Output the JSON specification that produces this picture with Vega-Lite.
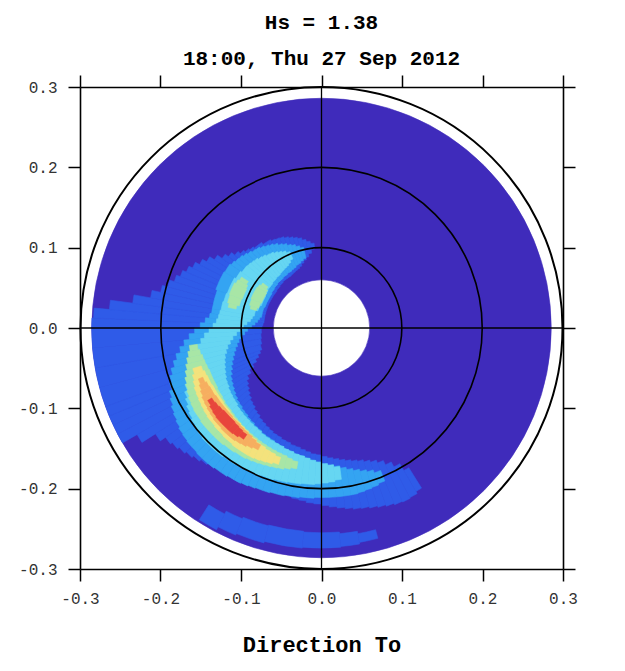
{
  "$schema": "https://vega.github.io/schema/vega-lite/v6.json",
  "autosize": "none",
  "width": 483,
  "height": 482,
  "padding": {"left": 80, "top": 87, "right": 62, "bottom": 102},
  "background": "white",
  "title": {
    "text": ["Hs = 1.38", "18:00, Thu 27 Sep 2012"],
    "font": "Liberation Mono",
    "fontSize": 21,
    "fontWeight": "bold",
    "lineHeight": 36,
    "color": "black",
    "anchor": "middle",
    "offset": 5
  },
  "config": {
    "view": {"stroke": null},
    "axis": {
      "domainColor": "black",
      "domainWidth": 1.6,
      "tickColor": "black",
      "tickWidth": 1.5,
      "tickSize": 12,
      "grid": false,
      "labelFont": "Liberation Mono",
      "labelFontSize": 16,
      "labelColor": "#333333",
      "labelPadding": 9,
      "labelFlush": false,
      "labelOverlap": false,
      "titleFont": "Liberation Mono",
      "titleFontSize": 22,
      "titleFontWeight": "bold",
      "titleColor": "black"
    }
  },
  "datasets": {
    "cells": [
      {"t":0,"t2":360,"r":0.06,"r2":0.286,"l":0},
      {"t":148,"t2":150,"r":0.205,"r2":0.235,"l":1},
      {"t":150,"t2":152.5,"r":0.195,"r2":0.238,"l":1},
      {"t":152.5,"t2":155,"r":0.188,"r2":0.239,"l":1},
      {"t":155,"t2":157.5,"r":0.182,"r2":0.238,"l":1},
      {"t":157.5,"t2":160,"r":0.178,"r2":0.236,"l":1},
      {"t":160,"t2":162.5,"r":0.175,"r2":0.234,"l":1},
      {"t":162.5,"t2":165,"r":0.172,"r2":0.232,"l":1},
      {"t":165,"t2":167.5,"r":0.17,"r2":0.23,"l":1},
      {"t":167.5,"t2":170,"r":0.168,"r2":0.229,"l":1},
      {"t":170,"t2":172.5,"r":0.166,"r2":0.227,"l":1},
      {"t":172.5,"t2":175,"r":0.164,"r2":0.225,"l":1},
      {"t":175,"t2":177.5,"r":0.162,"r2":0.223,"l":1},
      {"t":177.5,"t2":180,"r":0.16,"r2":0.221,"l":1},
      {"t":180,"t2":182.5,"r":0.158,"r2":0.219,"l":1},
      {"t":182.5,"t2":185,"r":0.157,"r2":0.218,"l":1},
      {"t":185,"t2":187.5,"r":0.155,"r2":0.216,"l":1},
      {"t":187.5,"t2":190,"r":0.153,"r2":0.215,"l":1},
      {"t":190,"t2":192.5,"r":0.151,"r2":0.213,"l":1},
      {"t":192.5,"t2":195,"r":0.15,"r2":0.212,"l":1},
      {"t":195,"t2":197.5,"r":0.148,"r2":0.211,"l":1},
      {"t":197.5,"t2":200,"r":0.147,"r2":0.21,"l":1},
      {"t":200,"t2":202.5,"r":0.145,"r2":0.21,"l":1},
      {"t":202.5,"t2":205,"r":0.144,"r2":0.21,"l":1},
      {"t":205,"t2":207.5,"r":0.142,"r2":0.211,"l":1},
      {"t":207.5,"t2":210,"r":0.14,"r2":0.212,"l":1},
      {"t":210,"t2":212.5,"r":0.138,"r2":0.213,"l":1},
      {"t":212.5,"t2":215,"r":0.136,"r2":0.215,"l":1},
      {"t":215,"t2":217.5,"r":0.133,"r2":0.217,"l":1},
      {"t":217.5,"t2":220,"r":0.131,"r2":0.219,"l":1},
      {"t":220,"t2":222.5,"r":0.128,"r2":0.222,"l":1},
      {"t":222.5,"t2":225,"r":0.126,"r2":0.225,"l":1},
      {"t":225,"t2":227.5,"r":0.123,"r2":0.228,"l":1},
      {"t":227.5,"t2":230,"r":0.12,"r2":0.231,"l":1},
      {"t":230,"t2":232.5,"r":0.117,"r2":0.234,"l":1},
      {"t":232.5,"t2":235,"r":0.114,"r2":0.237,"l":1},
      {"t":235,"t2":237.5,"r":0.11,"r2":0.245,"l":1},
      {"t":237.5,"t2":240,"r":0.104,"r2":0.265,"l":1},
      {"t":240,"t2":242.5,"r":0.097,"r2":0.286,"l":1},
      {"t":242.5,"t2":245,"r":0.091,"r2":0.286,"l":1},
      {"t":245,"t2":247.5,"r":0.086,"r2":0.286,"l":1},
      {"t":247.5,"t2":250,"r":0.082,"r2":0.286,"l":1},
      {"t":250,"t2":255,"r":0.079,"r2":0.286,"l":1},
      {"t":255,"t2":260,"r":0.077,"r2":0.286,"l":1},
      {"t":260,"t2":265,"r":0.076,"r2":0.286,"l":1},
      {"t":265,"t2":270,"r":0.075,"r2":0.286,"l":1},
      {"t":270,"t2":272.5,"r":0.074,"r2":0.286,"l":1},
      {"t":272.5,"t2":275,"r":0.073,"r2":0.284,"l":1},
      {"t":275,"t2":277.5,"r":0.072,"r2":0.265,"l":1},
      {"t":277.5,"t2":280,"r":0.072,"r2":0.237,"l":1},
      {"t":280,"t2":282.5,"r":0.072,"r2":0.216,"l":1},
      {"t":282.5,"t2":285,"r":0.072,"r2":0.205,"l":1},
      {"t":285,"t2":287.5,"r":0.072,"r2":0.198,"l":1},
      {"t":287.5,"t2":290,"r":0.072,"r2":0.192,"l":1},
      {"t":290,"t2":292.5,"r":0.072,"r2":0.187,"l":1},
      {"t":292.5,"t2":295,"r":0.072,"r2":0.182,"l":1},
      {"t":295,"t2":297.5,"r":0.072,"r2":0.177,"l":1},
      {"t":297.5,"t2":300,"r":0.072,"r2":0.171,"l":1},
      {"t":300,"t2":302.5,"r":0.072,"r2":0.165,"l":1},
      {"t":302.5,"t2":305,"r":0.072,"r2":0.158,"l":1},
      {"t":305,"t2":307.5,"r":0.072,"r2":0.151,"l":1},
      {"t":307.5,"t2":310,"r":0.072,"r2":0.146,"l":1},
      {"t":310,"t2":312.5,"r":0.073,"r2":0.141,"l":1},
      {"t":312.5,"t2":315,"r":0.073,"r2":0.137,"l":1},
      {"t":315,"t2":317.5,"r":0.074,"r2":0.134,"l":1},
      {"t":317.5,"t2":320,"r":0.074,"r2":0.132,"l":1},
      {"t":320,"t2":325,"r":0.075,"r2":0.13,"l":1},
      {"t":325,"t2":330,"r":0.075,"r2":0.127,"l":1},
      {"t":330,"t2":332.5,"r":0.076,"r2":0.125,"l":1},
      {"t":332.5,"t2":335,"r":0.077,"r2":0.124,"l":1},
      {"t":335,"t2":337.5,"r":0.078,"r2":0.123,"l":1},
      {"t":337.5,"t2":340,"r":0.079,"r2":0.121,"l":1},
      {"t":340,"t2":342.5,"r":0.081,"r2":0.119,"l":1},
      {"t":342.5,"t2":345,"r":0.084,"r2":0.117,"l":1},
      {"t":345,"t2":347.5,"r":0.087,"r2":0.115,"l":1},
      {"t":347.5,"t2":350,"r":0.09,"r2":0.112,"l":1},
      {"t":350,"t2":352.5,"r":0.094,"r2":0.109,"l":1},
      {"t":352.5,"t2":355,"r":0.099,"r2":0.106,"l":1},
      {"t":165,"t2":170,"r":0.26,"r2":0.271,"l":1},
      {"t":170,"t2":175,"r":0.257,"r2":0.273,"l":1},
      {"t":175,"t2":185,"r":0.255,"r2":0.274,"l":1},
      {"t":185,"t2":195,"r":0.254,"r2":0.275,"l":1},
      {"t":195,"t2":202.5,"r":0.255,"r2":0.277,"l":1},
      {"t":202.5,"t2":207.5,"r":0.257,"r2":0.279,"l":1},
      {"t":207.5,"t2":212.5,"r":0.261,"r2":0.283,"l":1},
      {"t":157.5,"t2":160,"r":0.192,"r2":0.206,"l":2},
      {"t":160,"t2":162.5,"r":0.188,"r2":0.208,"l":2},
      {"t":162.5,"t2":165,"r":0.185,"r2":0.209,"l":2},
      {"t":165,"t2":167.5,"r":0.182,"r2":0.21,"l":2},
      {"t":167.5,"t2":170,"r":0.179,"r2":0.211,"l":2},
      {"t":170,"t2":172.5,"r":0.176,"r2":0.211,"l":2},
      {"t":172.5,"t2":175,"r":0.173,"r2":0.211,"l":2},
      {"t":175,"t2":177.5,"r":0.171,"r2":0.211,"l":2},
      {"t":177.5,"t2":180,"r":0.169,"r2":0.211,"l":2},
      {"t":180,"t2":182.5,"r":0.167,"r2":0.211,"l":2},
      {"t":182.5,"t2":185,"r":0.165,"r2":0.212,"l":2},
      {"t":185,"t2":187.5,"r":0.163,"r2":0.212,"l":2},
      {"t":187.5,"t2":190,"r":0.161,"r2":0.213,"l":2},
      {"t":190,"t2":192.5,"r":0.16,"r2":0.213,"l":2},
      {"t":192.5,"t2":195,"r":0.158,"r2":0.214,"l":2},
      {"t":195,"t2":197.5,"r":0.157,"r2":0.214,"l":2},
      {"t":197.5,"t2":200,"r":0.155,"r2":0.215,"l":2},
      {"t":200,"t2":202.5,"r":0.154,"r2":0.215,"l":2},
      {"t":202.5,"t2":205,"r":0.152,"r2":0.216,"l":2},
      {"t":205,"t2":207.5,"r":0.151,"r2":0.217,"l":2},
      {"t":207.5,"t2":210,"r":0.15,"r2":0.218,"l":2},
      {"t":210,"t2":212.5,"r":0.148,"r2":0.218,"l":2},
      {"t":212.5,"t2":215,"r":0.147,"r2":0.219,"l":2},
      {"t":215,"t2":217.5,"r":0.145,"r2":0.219,"l":2},
      {"t":217.5,"t2":220,"r":0.144,"r2":0.22,"l":2},
      {"t":220,"t2":222.5,"r":0.142,"r2":0.22,"l":2},
      {"t":222.5,"t2":225,"r":0.141,"r2":0.22,"l":2},
      {"t":225,"t2":227.5,"r":0.139,"r2":0.219,"l":2},
      {"t":227.5,"t2":230,"r":0.138,"r2":0.219,"l":2},
      {"t":230,"t2":232.5,"r":0.136,"r2":0.218,"l":2},
      {"t":232.5,"t2":235,"r":0.134,"r2":0.217,"l":2},
      {"t":235,"t2":237.5,"r":0.132,"r2":0.215,"l":2},
      {"t":237.5,"t2":240,"r":0.13,"r2":0.213,"l":2},
      {"t":240,"t2":242.5,"r":0.128,"r2":0.211,"l":2},
      {"t":242.5,"t2":245,"r":0.125,"r2":0.208,"l":2},
      {"t":245,"t2":247.5,"r":0.122,"r2":0.205,"l":2},
      {"t":247.5,"t2":250,"r":0.119,"r2":0.201,"l":2},
      {"t":250,"t2":252.5,"r":0.116,"r2":0.198,"l":2},
      {"t":252.5,"t2":255,"r":0.113,"r2":0.194,"l":2},
      {"t":255,"t2":257.5,"r":0.11,"r2":0.189,"l":2},
      {"t":257.5,"t2":260,"r":0.107,"r2":0.184,"l":2},
      {"t":260,"t2":262.5,"r":0.104,"r2":0.178,"l":2},
      {"t":262.5,"t2":265,"r":0.1,"r2":0.172,"l":2},
      {"t":265,"t2":267.5,"r":0.096,"r2":0.165,"l":2},
      {"t":267.5,"t2":270,"r":0.092,"r2":0.158,"l":2},
      {"t":270,"t2":272.5,"r":0.087,"r2":0.151,"l":2},
      {"t":272.5,"t2":275,"r":0.083,"r2":0.145,"l":2},
      {"t":275,"t2":277.5,"r":0.08,"r2":0.14,"l":2},
      {"t":277.5,"t2":280,"r":0.078,"r2":0.138,"l":2},
      {"t":280,"t2":290,"r":0.076,"r2":0.138,"l":2},
      {"t":290,"t2":300,"r":0.075,"r2":0.14,"l":2},
      {"t":300,"t2":305,"r":0.075,"r2":0.139,"l":2},
      {"t":305,"t2":307.5,"r":0.076,"r2":0.137,"l":2},
      {"t":307.5,"t2":310,"r":0.076,"r2":0.135,"l":2},
      {"t":310,"t2":312.5,"r":0.077,"r2":0.134,"l":2},
      {"t":312.5,"t2":315,"r":0.077,"r2":0.132,"l":2},
      {"t":315,"t2":317.5,"r":0.078,"r2":0.13,"l":2},
      {"t":317.5,"t2":320,"r":0.078,"r2":0.128,"l":2},
      {"t":320,"t2":322.5,"r":0.078,"r2":0.127,"l":2},
      {"t":322.5,"t2":325,"r":0.079,"r2":0.125,"l":2},
      {"t":325,"t2":327.5,"r":0.079,"r2":0.123,"l":2},
      {"t":327.5,"t2":330,"r":0.08,"r2":0.121,"l":2},
      {"t":330,"t2":332.5,"r":0.08,"r2":0.119,"l":2},
      {"t":332.5,"t2":335,"r":0.081,"r2":0.116,"l":2},
      {"t":335,"t2":337.5,"r":0.082,"r2":0.114,"l":2},
      {"t":337.5,"t2":340,"r":0.084,"r2":0.111,"l":2},
      {"t":340,"t2":342.5,"r":0.085,"r2":0.109,"l":2},
      {"t":342.5,"t2":345,"r":0.087,"r2":0.106,"l":2},
      {"t":345,"t2":347.5,"r":0.089,"r2":0.103,"l":2},
      {"t":172.5,"t2":175,"r":0.174,"r2":0.19,"l":3},
      {"t":175,"t2":177.5,"r":0.171,"r2":0.192,"l":3},
      {"t":177.5,"t2":180,"r":0.169,"r2":0.193,"l":3},
      {"t":180,"t2":182.5,"r":0.167,"r2":0.194,"l":3},
      {"t":182.5,"t2":185,"r":0.165,"r2":0.195,"l":3},
      {"t":185,"t2":187.5,"r":0.163,"r2":0.195,"l":3},
      {"t":187.5,"t2":190,"r":0.161,"r2":0.196,"l":3},
      {"t":190,"t2":192.5,"r":0.16,"r2":0.196,"l":3},
      {"t":192.5,"t2":195,"r":0.158,"r2":0.197,"l":3},
      {"t":195,"t2":197.5,"r":0.157,"r2":0.197,"l":3},
      {"t":197.5,"t2":200,"r":0.155,"r2":0.198,"l":3},
      {"t":200,"t2":202.5,"r":0.154,"r2":0.198,"l":3},
      {"t":202.5,"t2":205,"r":0.153,"r2":0.199,"l":3},
      {"t":205,"t2":207.5,"r":0.152,"r2":0.199,"l":3},
      {"t":207.5,"t2":210,"r":0.151,"r2":0.2,"l":3},
      {"t":210,"t2":212.5,"r":0.149,"r2":0.2,"l":3},
      {"t":212.5,"t2":215,"r":0.148,"r2":0.201,"l":3},
      {"t":215,"t2":217.5,"r":0.147,"r2":0.201,"l":3},
      {"t":217.5,"t2":220,"r":0.146,"r2":0.202,"l":3},
      {"t":220,"t2":222.5,"r":0.145,"r2":0.202,"l":3},
      {"t":222.5,"t2":225,"r":0.144,"r2":0.202,"l":3},
      {"t":225,"t2":227.5,"r":0.143,"r2":0.202,"l":3},
      {"t":227.5,"t2":230,"r":0.141,"r2":0.201,"l":3},
      {"t":230,"t2":232.5,"r":0.14,"r2":0.2,"l":3},
      {"t":232.5,"t2":235,"r":0.139,"r2":0.198,"l":3},
      {"t":235,"t2":237.5,"r":0.138,"r2":0.196,"l":3},
      {"t":237.5,"t2":240,"r":0.136,"r2":0.194,"l":3},
      {"t":240,"t2":242.5,"r":0.135,"r2":0.191,"l":3},
      {"t":242.5,"t2":245,"r":0.133,"r2":0.188,"l":3},
      {"t":245,"t2":247.5,"r":0.131,"r2":0.184,"l":3},
      {"t":247.5,"t2":250,"r":0.129,"r2":0.18,"l":3},
      {"t":250,"t2":252.5,"r":0.127,"r2":0.176,"l":3},
      {"t":252.5,"t2":255,"r":0.125,"r2":0.171,"l":3},
      {"t":255,"t2":257.5,"r":0.122,"r2":0.166,"l":3},
      {"t":257.5,"t2":260,"r":0.119,"r2":0.161,"l":3},
      {"t":260,"t2":262.5,"r":0.115,"r2":0.156,"l":3},
      {"t":262.5,"t2":265,"r":0.111,"r2":0.151,"l":3},
      {"t":265,"t2":267.5,"r":0.106,"r2":0.146,"l":3},
      {"t":267.5,"t2":270,"r":0.101,"r2":0.14,"l":3},
      {"t":270,"t2":272.5,"r":0.097,"r2":0.135,"l":3},
      {"t":272.5,"t2":275,"r":0.093,"r2":0.131,"l":3},
      {"t":275,"t2":277.5,"r":0.089,"r2":0.129,"l":3},
      {"t":277.5,"t2":280,"r":0.087,"r2":0.128,"l":3},
      {"t":280,"t2":285,"r":0.085,"r2":0.127,"l":3},
      {"t":285,"t2":290,"r":0.082,"r2":0.126,"l":3},
      {"t":290,"t2":300,"r":0.08,"r2":0.125,"l":3},
      {"t":300,"t2":305,"r":0.081,"r2":0.123,"l":3},
      {"t":305,"t2":310,"r":0.082,"r2":0.121,"l":3},
      {"t":310,"t2":312.5,"r":0.082,"r2":0.12,"l":3},
      {"t":312.5,"t2":315,"r":0.083,"r2":0.119,"l":3},
      {"t":315,"t2":317.5,"r":0.083,"r2":0.118,"l":3},
      {"t":317.5,"t2":320,"r":0.084,"r2":0.116,"l":3},
      {"t":320,"t2":322.5,"r":0.084,"r2":0.115,"l":3},
      {"t":322.5,"t2":325,"r":0.085,"r2":0.113,"l":3},
      {"t":325,"t2":327.5,"r":0.086,"r2":0.112,"l":3},
      {"t":327.5,"t2":330,"r":0.087,"r2":0.11,"l":3},
      {"t":330,"t2":332.5,"r":0.088,"r2":0.108,"l":3},
      {"t":332.5,"t2":335,"r":0.09,"r2":0.106,"l":3},
      {"t":335,"t2":337.5,"r":0.093,"r2":0.103,"l":3},
      {"t":282.5,"t2":285,"r":0.109,"r2":0.119,"l":4},
      {"t":285,"t2":290,"r":0.106,"r2":0.121,"l":4},
      {"t":290,"t2":297.5,"r":0.105,"r2":0.122,"l":4},
      {"t":297.5,"t2":300,"r":0.106,"r2":0.12,"l":4},
      {"t":300,"t2":302.5,"r":0.108,"r2":0.118,"l":4},
      {"t":285,"t2":287.5,"r":0.084,"r2":0.092,"l":4},
      {"t":287.5,"t2":292.5,"r":0.082,"r2":0.094,"l":4},
      {"t":292.5,"t2":302.5,"r":0.081,"r2":0.095,"l":4},
      {"t":302.5,"t2":305,"r":0.082,"r2":0.094,"l":4},
      {"t":305,"t2":307.5,"r":0.084,"r2":0.092,"l":4},
      {"t":190,"t2":192.5,"r":0.169,"r2":0.178,"l":4},
      {"t":192.5,"t2":195,"r":0.167,"r2":0.18,"l":4},
      {"t":195,"t2":197.5,"r":0.165,"r2":0.182,"l":4},
      {"t":197.5,"t2":200,"r":0.164,"r2":0.183,"l":4},
      {"t":200,"t2":202.5,"r":0.163,"r2":0.184,"l":4},
      {"t":202.5,"t2":205,"r":0.162,"r2":0.185,"l":4},
      {"t":205,"t2":207.5,"r":0.161,"r2":0.186,"l":4},
      {"t":207.5,"t2":210,"r":0.16,"r2":0.187,"l":4},
      {"t":210,"t2":212.5,"r":0.159,"r2":0.188,"l":4},
      {"t":212.5,"t2":215,"r":0.158,"r2":0.188,"l":4},
      {"t":215,"t2":217.5,"r":0.157,"r2":0.189,"l":4},
      {"t":217.5,"t2":220,"r":0.156,"r2":0.189,"l":4},
      {"t":220,"t2":222.5,"r":0.155,"r2":0.19,"l":4},
      {"t":222.5,"t2":225,"r":0.154,"r2":0.19,"l":4},
      {"t":225,"t2":227.5,"r":0.153,"r2":0.19,"l":4},
      {"t":227.5,"t2":232.5,"r":0.152,"r2":0.19,"l":4},
      {"t":232.5,"t2":235,"r":0.151,"r2":0.189,"l":4},
      {"t":235,"t2":237.5,"r":0.15,"r2":0.189,"l":4},
      {"t":237.5,"t2":240,"r":0.15,"r2":0.188,"l":4},
      {"t":240,"t2":242.5,"r":0.149,"r2":0.187,"l":4},
      {"t":242.5,"t2":245,"r":0.149,"r2":0.185,"l":4},
      {"t":245,"t2":247.5,"r":0.149,"r2":0.183,"l":4},
      {"t":247.5,"t2":250,"r":0.149,"r2":0.181,"l":4},
      {"t":250,"t2":252.5,"r":0.15,"r2":0.178,"l":4},
      {"t":252.5,"t2":255,"r":0.151,"r2":0.175,"l":4},
      {"t":255,"t2":257.5,"r":0.152,"r2":0.172,"l":4},
      {"t":257.5,"t2":260,"r":0.154,"r2":0.169,"l":4},
      {"t":260,"t2":262.5,"r":0.156,"r2":0.166,"l":4},
      {"t":197.5,"t2":200,"r":0.169,"r2":0.178,"l":5},
      {"t":200,"t2":202.5,"r":0.167,"r2":0.18,"l":5},
      {"t":202.5,"t2":205,"r":0.166,"r2":0.181,"l":5},
      {"t":205,"t2":207.5,"r":0.164,"r2":0.182,"l":5},
      {"t":207.5,"t2":210,"r":0.163,"r2":0.183,"l":5},
      {"t":210,"t2":212.5,"r":0.161,"r2":0.183,"l":5},
      {"t":212.5,"t2":215,"r":0.16,"r2":0.183,"l":5},
      {"t":215,"t2":217.5,"r":0.158,"r2":0.183,"l":5},
      {"t":217.5,"t2":220,"r":0.157,"r2":0.182,"l":5},
      {"t":220,"t2":222.5,"r":0.156,"r2":0.182,"l":5},
      {"t":222.5,"t2":225,"r":0.156,"r2":0.181,"l":5},
      {"t":225,"t2":227.5,"r":0.155,"r2":0.181,"l":5},
      {"t":227.5,"t2":232.5,"r":0.154,"r2":0.18,"l":5},
      {"t":232.5,"t2":235,"r":0.153,"r2":0.179,"l":5},
      {"t":235,"t2":237.5,"r":0.153,"r2":0.178,"l":5},
      {"t":237.5,"t2":240,"r":0.153,"r2":0.177,"l":5},
      {"t":240,"t2":242.5,"r":0.153,"r2":0.176,"l":5},
      {"t":242.5,"t2":245,"r":0.154,"r2":0.175,"l":5},
      {"t":245,"t2":247.5,"r":0.154,"r2":0.173,"l":5},
      {"t":247.5,"t2":250,"r":0.155,"r2":0.171,"l":5},
      {"t":250,"t2":252.5,"r":0.157,"r2":0.168,"l":5},
      {"t":207.5,"t2":210,"r":0.164,"r2":0.171,"l":6},
      {"t":210,"t2":212.5,"r":0.162,"r2":0.173,"l":6},
      {"t":212.5,"t2":215,"r":0.16,"r2":0.175,"l":6},
      {"t":215,"t2":217.5,"r":0.159,"r2":0.176,"l":6},
      {"t":217.5,"t2":220,"r":0.158,"r2":0.177,"l":6},
      {"t":220,"t2":225,"r":0.157,"r2":0.177,"l":6},
      {"t":225,"t2":230,"r":0.156,"r2":0.176,"l":6},
      {"t":230,"t2":232.5,"r":0.156,"r2":0.175,"l":6},
      {"t":232.5,"t2":235,"r":0.156,"r2":0.174,"l":6},
      {"t":235,"t2":237.5,"r":0.156,"r2":0.173,"l":6},
      {"t":237.5,"t2":240,"r":0.157,"r2":0.172,"l":6},
      {"t":240,"t2":242.5,"r":0.157,"r2":0.17,"l":6},
      {"t":242.5,"t2":245,"r":0.158,"r2":0.168,"l":6},
      {"t":245,"t2":247.5,"r":0.16,"r2":0.166,"l":6},
      {"t":215,"t2":217.5,"r":0.162,"r2":0.169,"l":7},
      {"t":217.5,"t2":220,"r":0.161,"r2":0.171,"l":7},
      {"t":220,"t2":222.5,"r":0.16,"r2":0.172,"l":7},
      {"t":222.5,"t2":230,"r":0.159,"r2":0.172,"l":7},
      {"t":230,"t2":232.5,"r":0.16,"r2":0.171,"l":7},
      {"t":232.5,"t2":235,"r":0.161,"r2":0.17,"l":7},
      {"t":235,"t2":237.5,"r":0.162,"r2":0.168,"l":7}
    ]
  },
  "layer": [
    {
      "data": {"name": "cells"},
      "mark": {"type": "arc", "strokeWidth": 0.6},
      "encoding": {
        "theta": {"field": "t", "type": "quantitative", "scale": {"type": "linear", "domain": [0, 360], "range": [0, 6.283185307179586]}},
        "theta2": {"field": "t2"},
        "radius": {"field": "r2", "type": "quantitative", "scale": {"type": "linear", "domain": [0, 0.3], "range": [0, 241], "zero": true, "nice": false}},
        "radius2": {"field": "r"},
        "color": {"field": "l", "type": "ordinal", "scale": {"domain": [0,1,2,3,4,5,6,7], "range": ["#3f2bbb","#2f5be8","#34a4f2","#66d6f2","#a8e6a6","#f4e27c","#f6ae60","#e8453c"]}, "legend": null},
        "stroke": {"field": "l", "type": "ordinal", "scale": {"domain": [0,1,2,3,4,5,6,7], "range": ["#3f2bbb","#2f5be8","#34a4f2","#66d6f2","#a8e6a6","#f4e27c","#f6ae60","#e8453c"]}, "legend": null}
      }
    },
    {
      "data": {"values": [{"rad": 0.1}]},
      "mark": {"type": "arc", "filled": false, "stroke": "black", "strokeWidth": 1.6},
      "encoding": {
        "theta": {"datum": 0, "type": "quantitative"},
        "theta2": {"datum": 360},
        "radius": {"field": "rad", "type": "quantitative"}
      }
    },
    {
      "data": {"values": [{"rad": 0.2}]},
      "mark": {"type": "arc", "filled": false, "stroke": "black", "strokeWidth": 1.6},
      "encoding": {
        "theta": {"datum": 0, "type": "quantitative"},
        "theta2": {"datum": 360},
        "radius": {"field": "rad", "type": "quantitative"}
      }
    },
    {
      "data": {"values": [{"rad": 0.3}]},
      "mark": {"type": "arc", "filled": false, "stroke": "black", "strokeWidth": 2},
      "encoding": {
        "theta": {"datum": 0, "type": "quantitative"},
        "theta2": {"datum": 360},
        "radius": {"field": "rad", "type": "quantitative"}
      }
    },
    {
      "data": {"values": [{"v": 0}]},
      "mark": {"type": "rule", "color": "black", "strokeWidth": 1.3},
      "encoding": {
        "x": {"field": "v", "type": "quantitative", "scale": {"domain": [-0.3, 0.3], "nice": false, "zero": false},
          "axis": {"orient": "bottom", "values": [-0.3,-0.2,-0.1,0,0.1,0.2,0.3], "labelExpr": "datum.value < 0 ? '-' + format(-datum.value, '.1f') : format(datum.value, '.1f')", "title": "Direction To", "titlePadding": 28}}
      }
    },
    {
      "data": {"values": [{"v": 0}]},
      "mark": {"type": "rule", "color": "black", "strokeWidth": 1.3},
      "encoding": {
        "y": {"field": "v", "type": "quantitative", "scale": {"domain": [-0.3, 0.3], "nice": false, "zero": false},
          "axis": {"orient": "left", "values": [-0.3,-0.2,-0.1,0,0.1,0.2,0.3], "labelExpr": "datum.value < 0 ? '-' + format(-datum.value, '.1f') : format(datum.value, '.1f')", "title": null, "labelPadding": 11}}
      }
    },
    {
      "data": {"values": [{"v": 0}]},
      "mark": {"type": "rule", "opacity": 0},
      "encoding": {
        "x": {"field": "v", "type": "quantitative", "axis": {"orient": "top", "values": [-0.3,-0.2,-0.1,0,0.1,0.2,0.3], "labels": false, "title": null}}
      }
    },
    {
      "data": {"values": [{"v": 0}]},
      "mark": {"type": "rule", "opacity": 0},
      "encoding": {
        "y": {"field": "v", "type": "quantitative", "axis": {"orient": "right", "values": [-0.3,-0.2,-0.1,0,0.1,0.2,0.3], "labels": false, "title": null}}
      }
    }
  ],
  "resolve": {"axis": {"x": "independent", "y": "independent"}}
}
